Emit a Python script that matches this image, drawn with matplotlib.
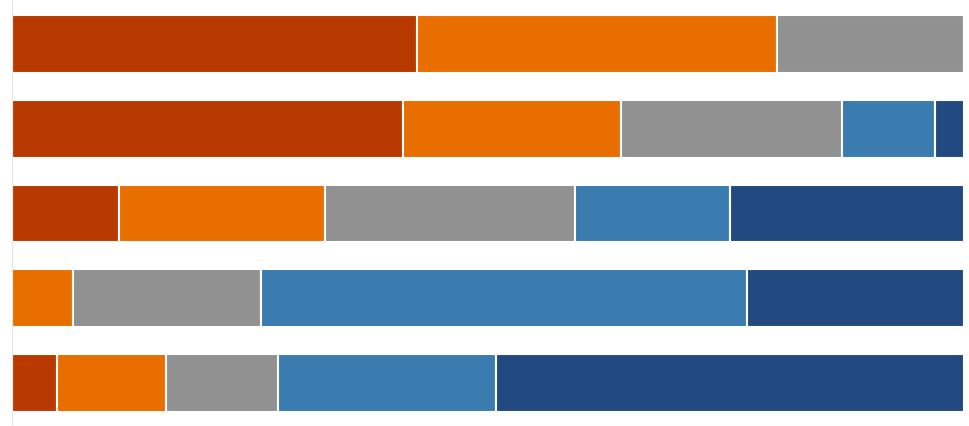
import numpy as np
import matplotlib.pyplot as plt

# share of each category per row (percent)
rows = ['A', 'B', 'C', 'D', 'E']
seg1 = [42.5, 41.1, 11.2, 0.0, 4.7]
seg2 = [37.9, 22.9, 21.7, 6.4, 11.5]
seg3 = [19.6, 23.2, 26.2, 19.8, 11.7]
seg4 = [0.0, 9.8, 16.3, 51.0, 22.9]
seg5 = [0.0, 3.0, 24.6, 22.8, 49.2]

segments = [seg1, seg2, seg3, seg4, seg5]
colors = ['#b83a00', '#e96e00', '#919191', '#3a7bb0', '#224a80']

fig = plt.figure(figsize=(9.7, 4.26), dpi=100)
ax = fig.add_axes([12 / 970, 0, 952 / 970, 1])

y = np.arange(len(rows))
left = np.zeros(len(rows))
for vals, c in zip(segments, colors):
    vals = np.array(vals)
    ax.barh(y, vals, left=left, height=0.68, color=c, edgecolor='white', linewidth=1.5)
    left += vals

ax.set_xlim(0, 100)
ax.set_ylim(4 + 43 / 84.75, -44 / 84.75)
ax.set_xticks([])
ax.set_yticks([])
for s in ['top', 'right']:
    ax.spines[s].set_visible(False)
ax.spines['left'].set_color('#e6e6e6')
ax.spines['bottom'].set_color('#f0f0f0')

fig.savefig('out.png', dpi=100)
